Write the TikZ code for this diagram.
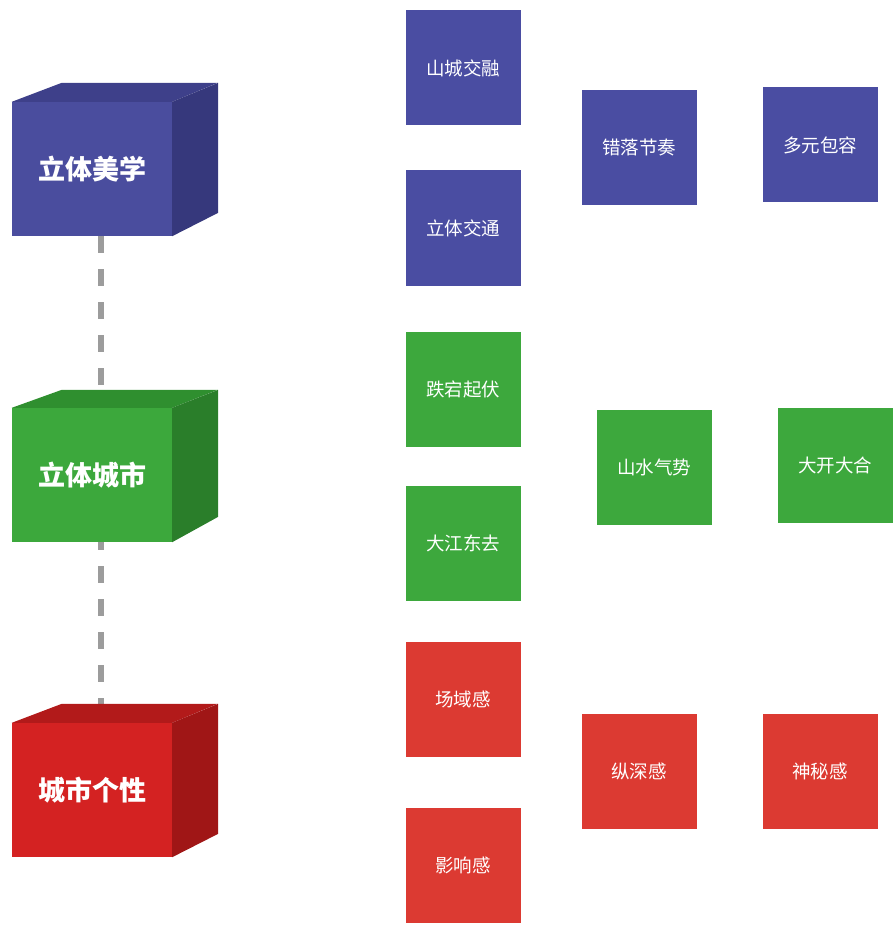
\documentclass[tikz,border=0pt]{standalone}
\usepackage{fontspec}
\newfontfamily\cjk{Noto Sans CJK SC}
\definecolor{blueFront}{HTML}{4A4D9E}
\definecolor{blueTop}{HTML}{3E408A}
\definecolor{blueSide}{HTML}{36387C}
\definecolor{blueTile}{HTML}{4A4DA2}
\definecolor{greenFront}{HTML}{3CA83C}
\definecolor{greenTop}{HTML}{2F8F2F}
\definecolor{greenSide}{HTML}{2A7E2A}
\definecolor{greenTile}{HTML}{3DA83D}
\definecolor{redFront}{HTML}{D42222}
\definecolor{redTop}{HTML}{B21A1A}
\definecolor{redSide}{HTML}{A01616}
\definecolor{redTile}{HTML}{DC3A32}
\definecolor{linkGray}{HTML}{9C9C9C}
\tikzset{
	cubeface/.style={minimum width=160pt, minimum height=134pt, inner sep=0pt,
		text=white, font=\cjk\bfseries\fontsize{27}{30}\selectfont},
	tile/.style={minimum width=115pt, minimum height=115pt, inner sep=0pt,
		text=white, font=\cjk\fontsize{18.5}{22}\selectfont},
	link/.style={linkGray, line width=6pt, dash pattern=on 17pt off 16pt}
}
\begin{document}
\begin{tikzpicture}[x=1pt, y=-1pt]
	\useasboundingbox (0,0) rectangle (894,925);
	\coordinate (linkTop) at (101,236);
	\coordinate (linkBottom) at (101,723);
	\draw[link] (linkTop) -- (linkBottom);
	% the three cubes
	\node[cubeface, fill=blueFront] (aesthetics) at (92,169) {立体美学};
	\fill[blueTop] (aesthetics.north west) -- ++(50,-19) -- ++(156,0) -- (aesthetics.north east) -- cycle;
	\fill[blueSide] (aesthetics.north east) -- ++(46,-19) -- ++(0,130) -- (aesthetics.south east) -- cycle;
	\node[cubeface, fill=greenFront] (city) at (92,475) {立体城市};
	\fill[greenTop] (city.north west) -- ++(50,-18) -- ++(156,0) -- (city.north east) -- cycle;
	\fill[greenSide] (city.north east) -- ++(46,-18) -- ++(0,127) -- (city.south east) -- cycle;
	\node[cubeface, fill=redFront] (character) at (92,790) {城市个性};
	\fill[redTop] (character.north west) -- ++(50,-19) -- ++(156,0) -- (character.north east) -- cycle;
	\fill[redSide] (character.north east) -- ++(46,-19) -- ++(0,130) -- (character.south east) -- cycle;
	% tiles
	\node[tile, fill=blueTile] (fusion) at (463,68) {山城交融};
	\node[tile, fill=blueTile] (traffic) at (463,228) {立体交通};
	\node[tile, fill=blueTile] (rhythm) at (639,148) {错落节奏};
	\node[tile, fill=blueTile] (tolerance) at (820,145) {多元包容};
	\node[tile, fill=greenTile] (undulation) at (463,389) {跌宕起伏};
	\node[tile, fill=greenTile] (river) at (463,543) {大江东去};
	\node[tile, fill=greenTile] (momentum) at (654,467) {山水气势};
	\node[tile, fill=greenTile] (grandeur) at (835,465) {大开大合};
	\node[tile, fill=redTile] (field) at (463,699) {场域感};
	\node[tile, fill=redTile] (influence) at (463,865) {影响感};
	\node[tile, fill=redTile] (depth) at (639,771) {纵深感};
	\node[tile, fill=redTile] (mystery) at (820,771) {神秘感};
\end{tikzpicture}
\end{document}
